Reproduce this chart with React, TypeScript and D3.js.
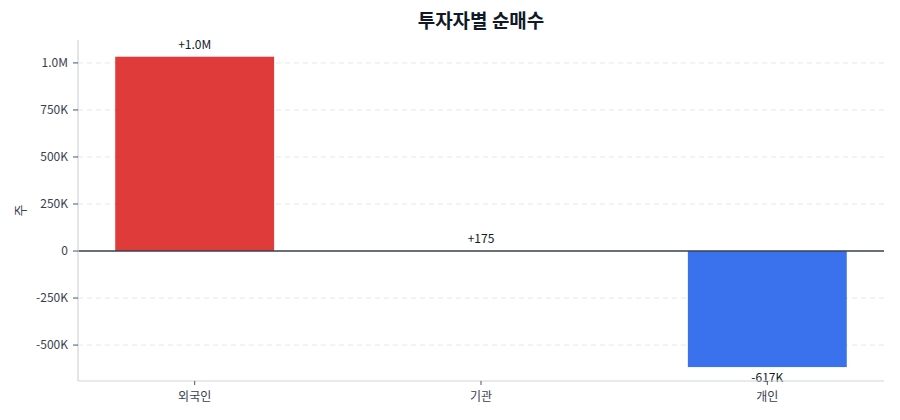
import React from "react";
import * as d3 from "d3";

const categories = ["외국인", "기관", "개인"];
const values = [1033000, 175, -617000];
const valueLabels = ["+1.0M", "+175", "-617K"];
const yTicks = [-500000, -250000, 0, 250000, 500000, 750000, 1000000];
const yTickLabels = ["-500K", "-250K", "0", "250K", "500K", "750K", "1.0M"];
const title = "투자자별 순매수";
const yLabel = "주";

const W = 900;
const H = 420;
const M = { left: 78, right: 16, top: 40, bottom: 39 };
const FONT = "'Noto Sans CJK KR', 'Noto Sans', sans-serif";

export default function App() {
  const x = d3
    .scaleBand<string>()
    .domain(categories)
    .range([M.left, W - M.right])
    .paddingInner(0.445)
    .paddingOuter(0.13);
  const minV = d3.min(values) as number;
  const maxV = d3.max(values) as number;
  const y = d3
    .scaleLinear()
    .domain([minV * 1.12, maxV * 1.086])
    .range([H - M.bottom, M.top]);
  const y0 = y(0);

  return (
    <svg
      width={W}
      height={H}
      style={{ position: "absolute", left: 0, top: 0, background: "#fff" }}
      fontFamily={FONT}
    >
      <text x={481} y={28} textAnchor="middle" fontSize={19} fontWeight={700} fill="#111827">
        {title}
      </text>
      {/* grid */}
      {yTicks.map((t) =>
        t === 0 ? null : (
          <line
            key={"g" + t}
            x1={M.left}
            x2={W - M.right}
            y1={y(t)}
            y2={y(t)}
            stroke="#e5e7eb"
            strokeDasharray="5,4"
          />
        )
      )}
      {/* bars */}
      {categories.map((c, i) => {
        const v = values[i];
        const top = Math.min(y(v), y0);
        const h = Math.abs(y(v) - y0);
        return (
          <rect
            key={c}
            x={x(c)}
            y={top}
            width={x.bandwidth()}
            height={h}
            fill={v >= 0 ? "#dc2626" : "#2563eb"}
            fillOpacity={0.9}
          />
        );
      })}
      {/* zero line */}
      <line x1={M.left} x2={W - M.right} y1={y0} y2={y0} stroke="#374151" strokeWidth={1.5} />
      {/* value labels */}
      {categories.map((c, i) => {
        const v = values[i];
        const cx = (x(c) as number) + x.bandwidth() / 2;
        const ly = v >= 0 ? y(v) - 8 : y(v) + 15;
        return (
          <text key={"l" + c} x={cx} y={ly} textAnchor="middle" fontSize={12} fill="#111827">
            {valueLabels[i]}
          </text>
        );
      })}
      {/* y axis */}
      <line x1={M.left} x2={M.left} y1={M.top} y2={H - M.bottom} stroke="#d1d5db" strokeWidth={1.2} />
      {yTicks.map((t, i) => (
        <g key={"t" + t}>
          <line x1={M.left - 5} x2={M.left} y1={y(t)} y2={y(t)} stroke="#4b5563" />
          <text
            x={M.left - 10}
            y={y(t)}
            dy="0.35em"
            textAnchor="end"
            fontSize={12}
            fill="#374151"
          >
            {yTickLabels[i]}
          </text>
        </g>
      ))}
      <text
        transform={`translate(20,${(M.top + H - M.bottom) / 2}) rotate(-90)`}
        textAnchor="middle"
        dy="0.35em"
        fontSize={13}
        fill="#374151"
      >
        {yLabel}
      </text>
      {/* x axis */}
      <line x1={M.left} x2={W - M.right} y1={H - M.bottom} y2={H - M.bottom} stroke="#d1d5db" strokeWidth={1.2} />
      {categories.map((c) => {
        const cx = (x(c) as number) + x.bandwidth() / 2;
        return (
          <g key={"x" + c}>
            <line x1={cx} x2={cx} y1={H - M.bottom} y2={H - M.bottom + 4} stroke="#4b5563" />
            <text x={cx} y={H - M.bottom + 20} textAnchor="middle" fontSize={12} fill="#374151">
              {c}
            </text>
          </g>
        );
      })}
    </svg>
  );
}
